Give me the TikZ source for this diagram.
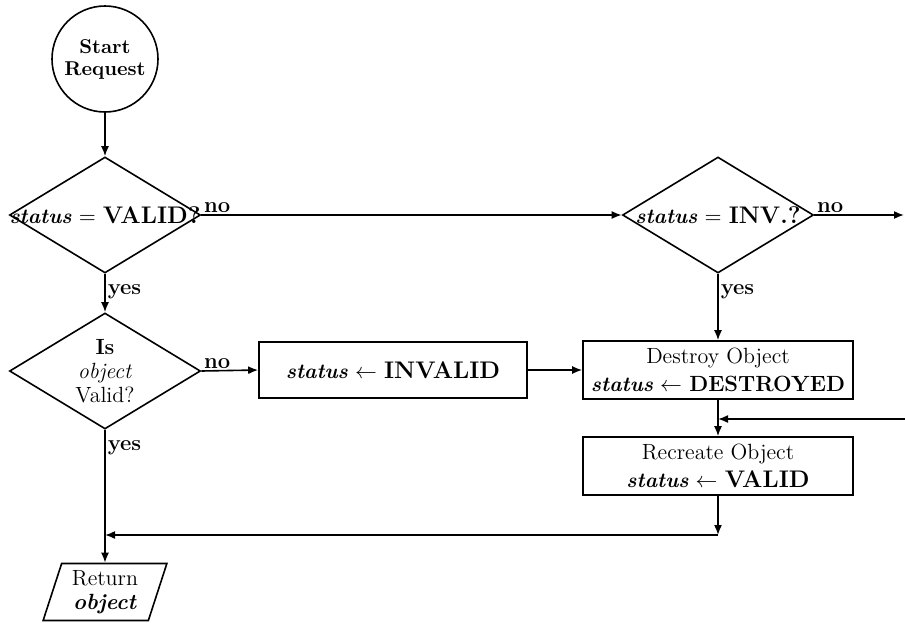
\documentclass[tikz,border=0pt]{standalone}
\usetikzlibrary{shapes.geometric,arrows.meta}
\newcommand{\stat}{{\fontsize{10.5}{13}\selectfont\textbf{\textit{status}}}}
\newcommand{\bigword}[2][12]{{\fontsize{#1}{14}\selectfont\bfseries #2}}
\begin{document}
\begin{tikzpicture}[x=0.5pt,y=-0.5pt,line width=0.8pt,
    >={Latex[length=5pt,width=4pt]},
    every node/.style={font=\fontsize{11}{14}\selectfont},
    decision/.style={draw,diamond,inner sep=0pt,minimum width=95.5pt,minimum height=58pt},
    process/.style={draw,rectangle,inner sep=0pt,align=center,minimum height=29pt},
    no/.style={pos=0,anchor=south west,inner sep=1pt,font=\fontsize{11}{13}\selectfont\bfseries},
    yes/.style={pos=0,anchor=north west,inner sep=1pt,yshift=-4pt,font=\fontsize{11}{13}\selectfont\bfseries}]
  \useasboundingbox (0,0) rectangle (905,622);
          \node[draw,circle,minimum size=53pt,inner sep=0pt,align=center,
                font=\fontsize{10}{11}\selectfont\bfseries] at (105,59) (start) {Start\\Request};
          \node[decision,label={[inner sep=0pt]center:{\stat{} $=$ \bigword{VALID?}}}] at (105,215) (valid) {};
          \node[decision,label={[inner sep=0pt]center:{\stat{} $=$ \bigword{INV.?}}}] at (718,215) (inv) {};
          \node[decision,label={[inner sep=0pt,align=center,font=\fontsize{11}{12}\selectfont]center:{\textbf{Is}\\\textit{object}\\Valid?}}] at (105,371) (isvalid) {};
          \node[process,minimum width=134pt,minimum height=28pt] at (393,370) (setinv) {\stat{} $\leftarrow$ \bigword{INVALID}};
          \node[process,minimum width=135pt] at (718,370) (destroy) {Destroy Object\\\stat{} $\leftarrow$ \bigword[11]{DESTROYED}};
          \node[process,minimum width=135pt] at (718,466) (recreate) {Recreate Object\\\stat{} $\leftarrow$ \bigword{VALID}};
          \node[draw,trapezium,trapezium left angle=72,trapezium right angle=108,inner sep=0pt,
                minimum width=54pt,minimum height=28.5pt,align=center,
                font=\fontsize{11}{12}\selectfont] at (105,592) (return) {Return\\\textbf{\textit{object}}};
          \coordinate (exitno) at (904,215);
          \coordinate (loopin) at (905,419);
          \coordinate (back) at (718,535);
          \path[->] (start) edge (valid);
          \path[->] (valid.east) edge node[no] {no} (inv.west);
          \path[->] (inv.east) edge node[no] {no} (exitno);
          \path[->] (valid.south) edge node[yes] {yes} (isvalid.north);
          \path[->] (inv.south) edge node[yes] {yes} (destroy.north);
          \path[->] (isvalid.east) edge node[no] {no} (setinv.west);
          \path[->] (setinv) edge (destroy);
          \path[->] (destroy) edge (recreate);
          \path[->] (loopin) edge (destroy.south |- loopin);
          \path[->] (recreate.south) edge (back);
          \path[->] (back) edge (isvalid.south |- back);
          \path[->] (isvalid.south) edge node[yes] {yes} (return.north);
        \end{tikzpicture}
\end{document}
